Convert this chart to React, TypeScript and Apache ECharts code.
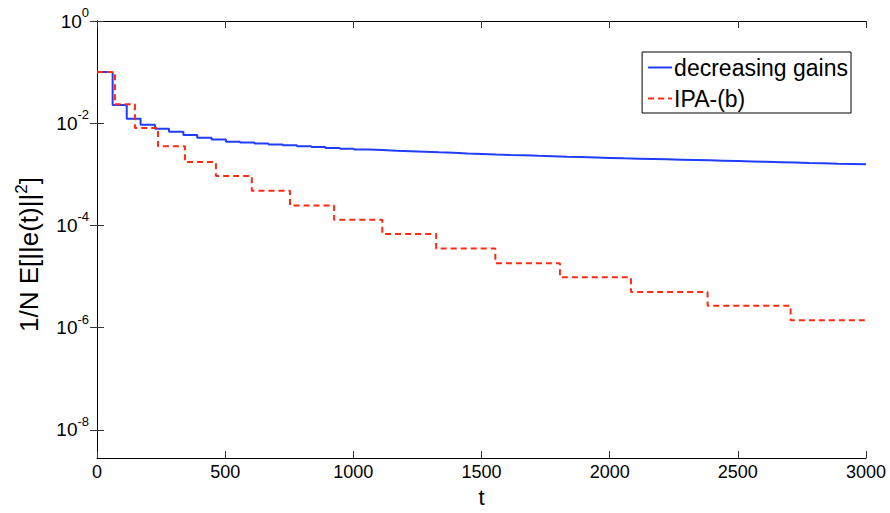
import React, { useEffect, useRef } from 'react';
import * as echarts from 'echarts';

// IPA-(b): step start times and levels
const redT = [0, 70, 148, 238, 343, 464, 604, 753, 925, 1113, 1323, 1554, 1806, 2083, 2382, 2706, 3000];
const redV = [0.1, 0.0234, 0.0081, 0.00355, 0.00174, 9.3e-4, 4.8e-4, 2.45e-4, 1.29e-4, 6.8e-5, 3.56e-5, 1.83e-5, 9.7e-6, 5.0e-6, 2.68e-6, 1.4e-6, 1.4e-6];

// decreasing gains: step start times and levels
const blueT = [0, 61, 116, 170, 226, 281, 337, 391, 447, 503, 558, 614, 669, 725, 780, 836, 891, 947, 1002,
  1058, 1113, 1169, 1224, 1280, 1335, 1391, 1446, 1502, 1557, 1613, 1668, 1724, 1779, 1835, 1890, 1946, 2001,
  2057, 2112, 2168, 2223, 2279, 2334, 2390, 2445, 2501, 2556, 2612, 2667, 2723, 2778, 2834, 2889, 2945, 3000];
const blueV = [0.1, 0.0227, 0.0123, 0.0093, 0.0078, 0.0068, 0.0059, 0.0052, 0.0048, 0.00436,
  0.00419, 0.00402, 0.00386, 0.00371, 0.00356, 0.00342, 0.00329, 0.00317, 0.00306,
  0.00299, 0.00291, 0.00284, 0.00277, 0.0027, 0.00264, 0.00257, 0.00251, 0.00245,
  0.0024, 0.00236, 0.00231, 0.00227, 0.00222, 0.00218, 0.00214, 0.0021, 0.00206,
  0.00203, 0.002, 0.00197, 0.00194, 0.00191, 0.00188, 0.00185, 0.00182, 0.00179,
  0.00176, 0.00173, 0.0017, 0.00167, 0.00165, 0.00162, 0.0016, 0.00157, 0.00157];

const seriesNames = ['decreasing gains', 'IPA-(b)'];
const xMin = 0;
const xMax = 3000;
const xStep = 500;
const yTickValues = [1e-8, 1e-6, 1e-4, 1e-2, 1];
const yMin = Math.pow(10, -8.55);
const yMax = 1;

const FONT = '"Liberation Sans", Arial, Helvetica, sans-serif';

export default function App() {
  const ref = useRef<HTMLDivElement>(null);
  useEffect(() => {
    if (!ref.current) return;
    const chart = echarts.init(ref.current, null, { renderer: 'svg' });
    const supLabel = (v: number) => {
      const e = Math.round(Math.log10(v));
      return `{b|10}{s|${e}}`;
    };
    const axisLineStyle = { color: '#000', width: 1 };
    const tickStyle = { color: '#333', width: 1 };
    chart.setOption({
      animation: false,
      backgroundColor: '#fff',
      textStyle: { fontFamily: FONT },
      grid: { left: 97, right: 24, top: 21, bottom: 47, containLabel: false },
      xAxis: [
        {
          type: 'value', min: xMin, max: xMax, interval: xStep, position: 'bottom',
          name: 't', nameLocation: 'middle', nameGap: 25,
          nameTextStyle: { fontSize: 22, color: '#000', fontFamily: FONT },
          axisLine: { show: true, lineStyle: axisLineStyle },
          axisTick: { show: true, inside: true, length: 7, lineStyle: tickStyle },
          axisLabel: { fontSize: 18, color: '#000', margin: 5, fontFamily: FONT, formatter: (v: number) => String(v) },
          splitLine: { show: false },
        },
        {
          type: 'value', min: xMin, max: xMax, interval: xStep, position: 'top',
          axisLine: { show: true, lineStyle: axisLineStyle },
          axisTick: { show: true, inside: true, length: 7, lineStyle: tickStyle },
          axisLabel: { show: false },
          splitLine: { show: false },
        },
      ],
      yAxis: [
        {
          type: 'log', logBase: 10, min: yMin, max: yMax, position: 'left',
          name: '1/N E[||e(t)||{s|2}]', nameLocation: 'middle', nameGap: 30, nameRotate: 90,
          nameTextStyle: {
            fontSize: 26, color: '#000', fontFamily: FONT, lineHeight: 32, padding: [0, 30, 0, 0],
            rich: { s: { fontSize: 17, lineHeight: 15, verticalAlign: 'top', color: '#000', fontFamily: FONT } },
          },
          axisLine: { show: true, lineStyle: axisLineStyle },
          axisTick: { show: true, inside: true, length: 7, lineStyle: tickStyle, customValues: yTickValues },
          axisLabel: {
            customValues: yTickValues, formatter: supLabel, margin: 8, color: '#000',
            rich: {
              b: { fontSize: 19, lineHeight: 30, color: '#000', fontFamily: FONT },
              s: { fontSize: 13, lineHeight: 12, verticalAlign: 'top', color: '#000', fontFamily: FONT },
            },
          },
          splitLine: { show: false },
          minorTick: { show: false },
        },
        {
          type: 'log', logBase: 10, min: yMin, max: yMax, position: 'right',
          axisLine: { show: true, lineStyle: axisLineStyle },
          axisTick: { show: true, inside: true, length: 7, lineStyle: tickStyle, customValues: yTickValues },
          axisLabel: { show: false, customValues: yTickValues },
          splitLine: { show: false },
        },
      ],
      legend: {
        data: seriesNames,
        orient: 'vertical', right: 39, top: 52, align: 'left',
        backgroundColor: '#fff', borderColor: '#000', borderWidth: 1, borderRadius: 0,
        padding: [2, 3, 1, 5], itemWidth: 24, itemHeight: 14, itemGap: 4,
        itemStyle: { color: 'transparent', borderColor: 'transparent', borderWidth: 0, opacity: 0 },
        textStyle: { fontSize: 23, color: '#000', fontFamily: FONT, lineHeight: 27, padding: [0, 0, 0, -3] },
      },
      series: [
        {
          name: seriesNames[0], type: 'line', step: 'end', xAxisIndex: 0, yAxisIndex: 0,
          showSymbol: false, symbol: 'none', z: 3,
          lineStyle: { color: '#1f3cff', width: 2 },
          itemStyle: { color: '#1f3cff' },
          data: blueT.map((t, i) => [t, blueV[i]]),
        },
        {
          name: seriesNames[1], type: 'line', step: 'end', xAxisIndex: 0, yAxisIndex: 0,
          showSymbol: false, symbol: 'none', z: 4,
          lineStyle: { color: '#ff2a10', width: 2, type: [6, 4] },
          itemStyle: { color: '#ff2a10' },
          data: redT.map((t, i) => [t, redV[i]]),
        },
      ],
    });
    return () => chart.dispose();
  }, []);
  return <div ref={ref} style={{ position: 'fixed', left: 0, top: 0, width: 890, height: 513 }} />;
}
